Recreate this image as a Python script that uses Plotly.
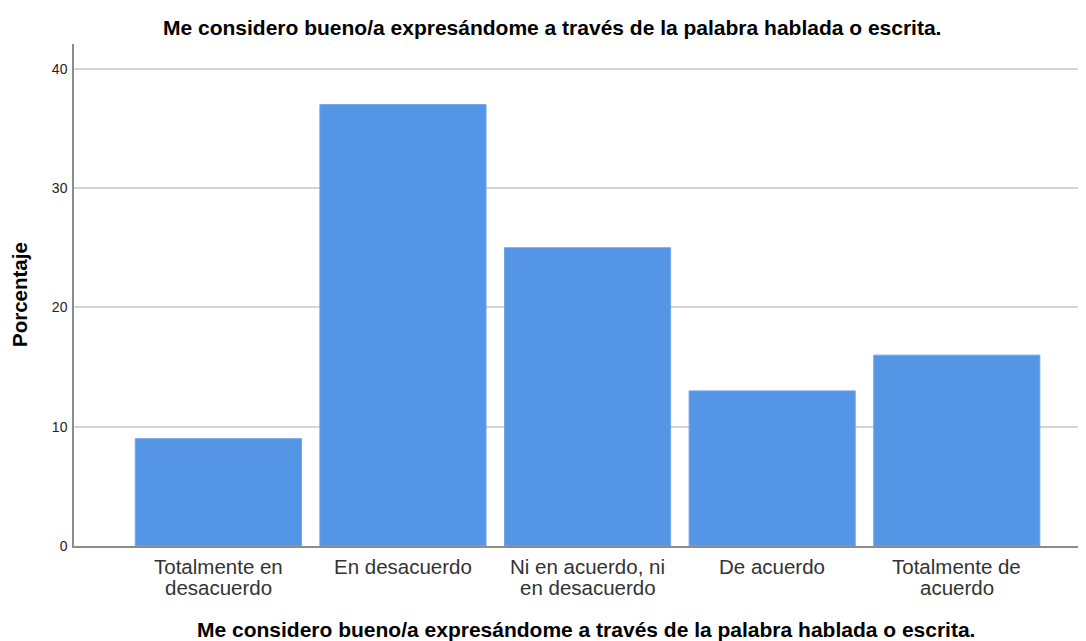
import plotly.graph_objects as go

categories = ["Totalmente en desacuerdo", "En desacuerdo", "Ni en acuerdo, ni en desacuerdo",
              "De acuerdo", "Totalmente de acuerdo"]
tick_line1 = ["Totalmente en", "En desacuerdo", "Ni en acuerdo, ni", "De acuerdo", "Totalmente de"]
tick_line2 = ["desacuerdo", "", "en desacuerdo", "", "acuerdo"]
values = [9, 37, 25, 13, 16]
y_ticks = [0, 10, 20, 30, 40]

title_text = "Me considero bueno/a expresándome a través de la palabra hablada o escrita."

# page is offset by the default 8px body margin
OFF = 8
W, H = 1086 - OFF, 641
L, T = 74 - OFF, 44 - OFF
R = 0
B = H - (546 - OFF)
PW, PH = W - L - R, H - T - B


def py(page_y):
    return (H - B - (page_y - OFF)) / PH


def px(page_x):
    return (page_x - OFF - L) / PW


fig = go.Figure(go.Bar(
    x=categories, y=values, width=0.9,
    marker=dict(color="#5495E5", line=dict(color="#6FA6EA", width=1)),
    hoverinfo="x+y",
))

annotations = [
    dict(text="<b>" + title_text + "</b>", xref="paper", yref="paper",
         x=px(552), y=py(27.5), xanchor="center", yanchor="middle",
         showarrow=False, font=dict(size=21, color="#000")),
    dict(text="<b>" + title_text + "</b>", xref="paper", yref="paper",
         x=px(586), y=py(629), xanchor="center", yanchor="middle",
         showarrow=False, font=dict(size=21, color="#000")),
    dict(text="<b>Porcentaje</b>", xref="paper", yref="paper", textangle=-90,
         x=px(19), y=py(295), xanchor="center", yanchor="middle",
         showarrow=False, font=dict(size=20.5, color="#000")),
]
for cat, l1, l2 in zip(categories, tick_line1, tick_line2):
    for txt, yy in ((l1, 566), (l2, 587)):
        if txt:
            annotations.append(dict(text=txt, xref="x", yref="paper", x=cat, y=py(yy),
                                    xanchor="center", yanchor="middle", showarrow=False,
                                    font=dict(size=20.5, color="#333")))

fig.update_layout(
    width=W, height=H,
    margin=dict(l=L, r=R, t=T, b=B),
    paper_bgcolor="white", plot_bgcolor="white",
    font=dict(family="Liberation Sans, Arial, sans-serif", color="#222"),
    showlegend=False,
    annotations=annotations,
)
fig.update_xaxes(
    range=[-0.782, 4.70], showticklabels=False,
    showline=True, linecolor="#8c8c8c", linewidth=1.5, showgrid=False, ticks="",
    automargin=False,
)
fig.update_yaxes(
    range=[0, 42.08], tickvals=y_ticks, tickfont=dict(size=14, color="#222"),
    showline=True, linecolor="#8c8c8c", linewidth=1.5,
    showgrid=True, gridcolor="#d4d4d4", gridwidth=1.5, zeroline=False, ticks="",
    automargin=False, ticklabelstandoff=2,
)

fig.write_html("out.html")
